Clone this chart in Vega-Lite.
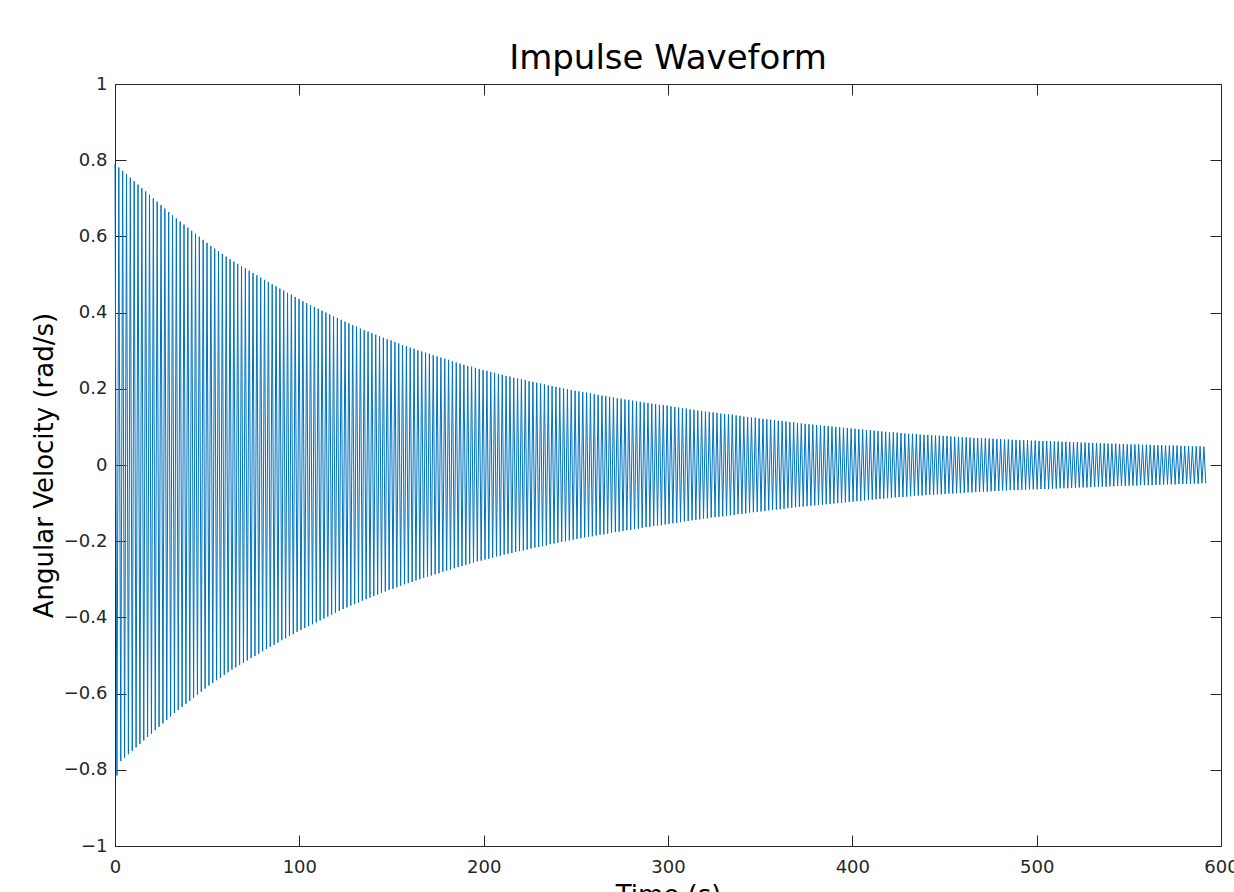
{
  "$schema": "https://vega.github.io/schema/vega-lite/v6.json",
  "width": 1106,
  "height": 762,
  "autosize": {"type": "none"},
  "padding": {"left": 115, "top": 84, "right": 13, "bottom": 46},
  "background": "white",
  "config": {"view": {"stroke": null}, "font": "DejaVu Sans"},
  "title": {"text": "Impulse Waveform", "fontSize": 34, "font": "DejaVu Sans", "fontWeight": "normal", "color": "#000000", "anchor": "middle", "frame": "group", "baseline": "alphabetic", "offset": -28},
  "data": {"values": [
{"t":0,"v":0.79},{"t":1.04,"v":-0.815},{"t":2.08,"v":0.781},{"t":3.12,"v":-0.777},{"t":4.16,"v":0.772},{"t":5.2,"v":-0.768},{"t":6.24,"v":0.763},{"t":7.28,"v":-0.759},{"t":8.32,"v":0.754},{"t":9.36,"v":-0.75},
{"t":10.4,"v":0.745},{"t":11.44,"v":-0.741},{"t":12.48,"v":0.736},{"t":13.52,"v":-0.732},{"t":14.56,"v":0.727},{"t":15.6,"v":-0.723},{"t":16.64,"v":0.718},{"t":17.68,"v":-0.714},{"t":18.72,"v":0.709},{"t":19.76,"v":-0.705},
{"t":20.8,"v":0.7},{"t":21.84,"v":-0.696},{"t":22.88,"v":0.691},{"t":23.92,"v":-0.687},{"t":24.96,"v":0.682},
{"t":26,"v":-0.678},{"t":27.04,"v":0.673},{"t":28.08,"v":-0.669},{"t":29.12,"v":0.664},{"t":30.16,"v":-0.66},{"t":31.2,"v":0.655},{"t":32.24,"v":-0.651},{"t":33.28,"v":0.647},{"t":34.32,"v":-0.643},{"t":35.36,"v":0.639},
{"t":36.4,"v":-0.635},{"t":37.44,"v":0.631},{"t":38.48,"v":-0.627},{"t":39.52,"v":0.623},{"t":40.56,"v":-0.619},{"t":41.6,"v":0.615},{"t":42.64,"v":-0.611},{"t":43.68,"v":0.607},{"t":44.72,"v":-0.603},{"t":45.76,"v":0.599},
{"t":46.8,"v":-0.595},{"t":47.84,"v":0.591},{"t":48.88,"v":-0.587},{"t":49.92,"v":0.583},{"t":50.96,"v":-0.579},
{"t":52,"v":0.575},{"t":53.04,"v":-0.572},{"t":54.08,"v":0.568},{"t":55.12,"v":-0.565},{"t":56.16,"v":0.561},{"t":57.2,"v":-0.558},{"t":58.24,"v":0.554},{"t":59.28,"v":-0.551},{"t":60.32,"v":0.547},{"t":61.36,"v":-0.544},
{"t":62.4,"v":0.54},{"t":63.44,"v":-0.537},{"t":64.48,"v":0.534},{"t":65.52,"v":-0.531},{"t":66.56,"v":0.528},{"t":67.6,"v":-0.525},{"t":68.64,"v":0.522},{"t":69.68,"v":-0.519},{"t":70.72,"v":0.516},{"t":71.76,"v":-0.513},
{"t":72.8,"v":0.51},{"t":73.84,"v":-0.507},{"t":74.88,"v":0.504},{"t":75.92,"v":-0.501},{"t":76.96,"v":0.498},
{"t":78,"v":-0.495},{"t":79.04,"v":0.492},{"t":80.08,"v":-0.489},{"t":81.12,"v":0.486},{"t":82.16,"v":-0.483},{"t":83.2,"v":0.48},{"t":84.24,"v":-0.477},{"t":85.28,"v":0.474},{"t":86.32,"v":-0.472},{"t":87.36,"v":0.469},
{"t":88.4,"v":-0.466},{"t":89.44,"v":0.463},{"t":90.48,"v":-0.46},{"t":91.52,"v":0.458},{"t":92.56,"v":-0.455},{"t":93.6,"v":0.452},{"t":94.64,"v":-0.449},{"t":95.68,"v":0.447},{"t":96.72,"v":-0.444},{"t":97.76,"v":0.441},
{"t":98.8,"v":-0.438},{"t":99.84,"v":0.436},{"t":100.88,"v":-0.433},{"t":101.92,"v":0.43},{"t":102.96,"v":-0.428},
{"t":104,"v":0.425},{"t":105.04,"v":-0.423},{"t":106.08,"v":0.42},{"t":107.12,"v":-0.418},{"t":108.16,"v":0.415},{"t":109.2,"v":-0.413},{"t":110.24,"v":0.41},{"t":111.28,"v":-0.408},{"t":112.32,"v":0.405},{"t":113.36,"v":-0.403},
{"t":114.4,"v":0.4},{"t":115.44,"v":-0.398},{"t":116.48,"v":0.395},{"t":117.52,"v":-0.393},{"t":118.56,"v":0.39},{"t":119.6,"v":-0.388},{"t":120.64,"v":0.386},{"t":121.68,"v":-0.383},{"t":122.72,"v":0.381},{"t":123.76,"v":-0.378},
{"t":124.8,"v":0.376},{"t":125.84,"v":-0.374},{"t":126.88,"v":0.372},{"t":127.92,"v":-0.369},{"t":128.96,"v":0.367},
{"t":130,"v":-0.365},{"t":131.04,"v":0.363},{"t":132.08,"v":-0.361},{"t":133.12,"v":0.358},{"t":134.16,"v":-0.356},{"t":135.2,"v":0.354},{"t":136.24,"v":-0.352},{"t":137.28,"v":0.35},{"t":138.32,"v":-0.348},{"t":139.36,"v":0.346},
{"t":140.4,"v":-0.344},{"t":141.44,"v":0.342},{"t":142.48,"v":-0.34},{"t":143.52,"v":0.338},{"t":144.56,"v":-0.336},{"t":145.6,"v":0.334},{"t":146.64,"v":-0.332},{"t":147.68,"v":0.33},{"t":148.72,"v":-0.328},{"t":149.76,"v":0.327},
{"t":150.8,"v":-0.325},{"t":151.84,"v":0.323},{"t":152.88,"v":-0.321},{"t":153.92,"v":0.319},{"t":154.96,"v":-0.317},
{"t":156,"v":0.315},{"t":157.04,"v":-0.313},{"t":158.08,"v":0.312},{"t":159.12,"v":-0.31},{"t":160.16,"v":0.308},{"t":161.2,"v":-0.307},{"t":162.24,"v":0.305},{"t":163.28,"v":-0.303},{"t":164.32,"v":0.301},{"t":165.36,"v":-0.3},
{"t":166.4,"v":0.298},{"t":167.44,"v":-0.296},{"t":168.48,"v":0.295},{"t":169.52,"v":-0.293},{"t":170.56,"v":0.292},{"t":171.6,"v":-0.29},{"t":172.64,"v":0.288},{"t":173.68,"v":-0.287},{"t":174.72,"v":0.285},{"t":175.76,"v":-0.284},
{"t":176.8,"v":0.282},{"t":177.84,"v":-0.28},{"t":178.88,"v":0.279},{"t":179.92,"v":-0.277},{"t":180.96,"v":0.276},
{"t":182,"v":-0.274},{"t":183.04,"v":0.272},{"t":184.08,"v":-0.271},{"t":185.12,"v":0.269},{"t":186.16,"v":-0.268},{"t":187.2,"v":0.266},{"t":188.24,"v":-0.265},{"t":189.28,"v":0.263},{"t":190.32,"v":-0.262},{"t":191.36,"v":0.26},
{"t":192.4,"v":-0.259},{"t":193.44,"v":0.258},{"t":194.48,"v":-0.256},{"t":195.52,"v":0.255},{"t":196.56,"v":-0.253},{"t":197.6,"v":0.252},{"t":198.64,"v":-0.251},{"t":199.68,"v":0.249},{"t":200.72,"v":-0.248},{"t":201.76,"v":0.247},
{"t":202.8,"v":-0.246},{"t":203.84,"v":0.244},{"t":204.88,"v":-0.243},{"t":205.92,"v":0.242},{"t":206.96,"v":-0.24},
{"t":208,"v":0.239},{"t":209.04,"v":-0.238},{"t":210.08,"v":0.237},{"t":211.12,"v":-0.235},{"t":212.16,"v":0.234},{"t":213.2,"v":-0.233},{"t":214.24,"v":0.232},{"t":215.28,"v":-0.231},{"t":216.32,"v":0.229},{"t":217.36,"v":-0.228},
{"t":218.4,"v":0.227},{"t":219.44,"v":-0.226},{"t":220.48,"v":0.225},{"t":221.52,"v":-0.224},{"t":222.56,"v":0.223},{"t":223.6,"v":-0.222},{"t":224.64,"v":0.22},{"t":225.68,"v":-0.219},{"t":226.72,"v":0.218},{"t":227.76,"v":-0.217},
{"t":228.8,"v":0.216},{"t":229.84,"v":-0.215},{"t":230.88,"v":0.214},{"t":231.92,"v":-0.213},{"t":232.96,"v":0.212},
{"t":234,"v":-0.211},{"t":235.04,"v":0.209},{"t":236.08,"v":-0.208},{"t":237.12,"v":0.207},{"t":238.16,"v":-0.206},{"t":239.2,"v":0.205},{"t":240.24,"v":-0.204},{"t":241.28,"v":0.203},{"t":242.32,"v":-0.202},{"t":243.36,"v":0.201},
{"t":244.4,"v":-0.2},{"t":245.44,"v":0.199},{"t":246.48,"v":-0.198},{"t":247.52,"v":0.197},{"t":248.56,"v":-0.196},{"t":249.6,"v":0.195},{"t":250.64,"v":-0.194},{"t":251.68,"v":0.193},{"t":252.72,"v":-0.192},{"t":253.76,"v":0.191},
{"t":254.8,"v":-0.19},{"t":255.84,"v":0.19},{"t":256.88,"v":-0.189},{"t":257.92,"v":0.188},{"t":258.96,"v":-0.187},
{"t":260,"v":0.186},{"t":261.04,"v":-0.185},{"t":262.08,"v":0.184},{"t":263.12,"v":-0.183},{"t":264.16,"v":0.182},{"t":265.2,"v":-0.182},{"t":266.24,"v":0.181},{"t":267.28,"v":-0.18},{"t":268.32,"v":0.179},{"t":269.36,"v":-0.178},
{"t":270.4,"v":0.177},{"t":271.44,"v":-0.176},{"t":272.48,"v":0.175},{"t":273.52,"v":-0.175},{"t":274.56,"v":0.174},{"t":275.6,"v":-0.173},{"t":276.64,"v":0.172},{"t":277.68,"v":-0.171},{"t":278.72,"v":0.171},{"t":279.76,"v":-0.17},
{"t":280.8,"v":0.169},{"t":281.84,"v":-0.168},{"t":282.88,"v":0.167},{"t":283.92,"v":-0.167},{"t":284.96,"v":0.166},
{"t":286,"v":-0.165},{"t":287.04,"v":0.164},{"t":288.08,"v":-0.163},{"t":289.12,"v":0.163},{"t":290.16,"v":-0.162},{"t":291.2,"v":0.161},{"t":292.24,"v":-0.16},{"t":293.28,"v":0.16},{"t":294.32,"v":-0.159},{"t":295.36,"v":0.158},
{"t":296.4,"v":-0.158},{"t":297.44,"v":0.157},{"t":298.48,"v":-0.156},{"t":299.52,"v":0.156},{"t":300.56,"v":-0.155},{"t":301.6,"v":0.154},{"t":302.64,"v":-0.153},{"t":303.68,"v":0.152},{"t":304.72,"v":-0.152},{"t":305.76,"v":0.151},
{"t":306.8,"v":-0.15},{"t":307.84,"v":0.149},{"t":308.88,"v":-0.148},{"t":309.92,"v":0.148},{"t":310.96,"v":-0.147},
{"t":312,"v":0.146},{"t":313.04,"v":-0.145},{"t":314.08,"v":0.145},{"t":315.12,"v":-0.144},{"t":316.16,"v":0.143},{"t":317.2,"v":-0.143},{"t":318.24,"v":0.142},{"t":319.28,"v":-0.141},{"t":320.32,"v":0.14},{"t":321.36,"v":-0.14},
{"t":322.4,"v":0.139},{"t":323.44,"v":-0.138},{"t":324.48,"v":0.138},{"t":325.52,"v":-0.137},{"t":326.56,"v":0.137},{"t":327.6,"v":-0.136},{"t":328.64,"v":0.135},{"t":329.68,"v":-0.135},{"t":330.72,"v":0.134},{"t":331.76,"v":-0.134},
{"t":332.8,"v":0.133},{"t":333.84,"v":-0.132},{"t":334.88,"v":0.132},{"t":335.92,"v":-0.131},{"t":336.96,"v":0.13},
{"t":338,"v":-0.129},{"t":339.04,"v":0.129},{"t":340.08,"v":-0.128},{"t":341.12,"v":0.127},{"t":342.16,"v":-0.127},{"t":343.2,"v":0.126},{"t":344.24,"v":-0.125},{"t":345.28,"v":0.125},{"t":346.32,"v":-0.124},{"t":347.36,"v":0.124},
{"t":348.4,"v":-0.123},{"t":349.44,"v":0.122},{"t":350.48,"v":-0.122},{"t":351.52,"v":0.121},{"t":352.56,"v":-0.121},{"t":353.6,"v":0.12},{"t":354.64,"v":-0.119},{"t":355.68,"v":0.119},{"t":356.72,"v":-0.118},{"t":357.76,"v":0.118},
{"t":358.8,"v":-0.117},{"t":359.84,"v":0.116},{"t":360.88,"v":-0.116},{"t":361.92,"v":0.115},{"t":362.96,"v":-0.115},
{"t":364,"v":0.114},{"t":365.04,"v":-0.113},{"t":366.08,"v":0.113},{"t":367.12,"v":-0.112},{"t":368.16,"v":0.112},{"t":369.2,"v":-0.111},{"t":370.24,"v":0.11},{"t":371.28,"v":-0.11},{"t":372.32,"v":0.109},{"t":373.36,"v":-0.109},
{"t":374.4,"v":0.108},{"t":375.44,"v":-0.108},{"t":376.48,"v":0.107},{"t":377.52,"v":-0.107},{"t":378.56,"v":0.106},{"t":379.6,"v":-0.106},{"t":380.64,"v":0.105},{"t":381.68,"v":-0.105},{"t":382.72,"v":0.104},{"t":383.76,"v":-0.104},
{"t":384.8,"v":0.103},{"t":385.84,"v":-0.103},{"t":386.88,"v":0.102},{"t":387.92,"v":-0.102},{"t":388.96,"v":0.101},
{"t":390,"v":-0.101},{"t":391.04,"v":0.1},{"t":392.08,"v":-0.1},{"t":393.12,"v":0.099},{"t":394.16,"v":-0.099},{"t":395.2,"v":0.098},{"t":396.24,"v":-0.098},{"t":397.28,"v":0.097},{"t":398.32,"v":-0.097},{"t":399.36,"v":0.096},
{"t":400.4,"v":-0.096},{"t":401.44,"v":0.095},{"t":402.48,"v":-0.095},{"t":403.52,"v":0.094},{"t":404.56,"v":-0.094},{"t":405.6,"v":0.093},{"t":406.64,"v":-0.093},{"t":407.68,"v":0.092},{"t":408.72,"v":-0.092},{"t":409.76,"v":0.091},
{"t":410.8,"v":-0.091},{"t":411.84,"v":0.09},{"t":412.88,"v":-0.09},{"t":413.92,"v":0.089},{"t":414.96,"v":-0.089},
{"t":416,"v":0.088},{"t":417.04,"v":-0.088},{"t":418.08,"v":0.087},{"t":419.12,"v":-0.087},{"t":420.16,"v":0.086},{"t":421.2,"v":-0.086},{"t":422.24,"v":0.086},{"t":423.28,"v":-0.085},{"t":424.32,"v":0.085},{"t":425.36,"v":-0.084},
{"t":426.4,"v":0.084},{"t":427.44,"v":-0.084},{"t":428.48,"v":0.083},{"t":429.52,"v":-0.083},{"t":430.56,"v":0.082},{"t":431.6,"v":-0.082},{"t":432.64,"v":0.082},{"t":433.68,"v":-0.081},{"t":434.72,"v":0.081},{"t":435.76,"v":-0.08},
{"t":436.8,"v":0.08},{"t":437.84,"v":-0.08},{"t":438.88,"v":0.079},{"t":439.92,"v":-0.079},{"t":440.96,"v":0.079},
{"t":442,"v":-0.078},{"t":443.04,"v":0.078},{"t":444.08,"v":-0.078},{"t":445.12,"v":0.077},{"t":446.16,"v":-0.077},{"t":447.2,"v":0.077},{"t":448.24,"v":-0.077},{"t":449.28,"v":0.076},{"t":450.32,"v":-0.076},{"t":451.36,"v":0.076},
{"t":452.4,"v":-0.075},{"t":453.44,"v":0.075},{"t":454.48,"v":-0.075},{"t":455.52,"v":0.074},{"t":456.56,"v":-0.074},{"t":457.6,"v":0.074},{"t":458.64,"v":-0.074},{"t":459.68,"v":0.073},{"t":460.72,"v":-0.073},{"t":461.76,"v":0.073},
{"t":462.8,"v":-0.072},{"t":463.84,"v":0.072},{"t":464.88,"v":-0.072},{"t":465.92,"v":0.071},{"t":466.96,"v":-0.071},
{"t":468,"v":0.071},{"t":469.04,"v":-0.071},{"t":470.08,"v":0.07},{"t":471.12,"v":-0.07},{"t":472.16,"v":0.07},{"t":473.2,"v":-0.07},{"t":474.24,"v":0.069},{"t":475.28,"v":-0.069},{"t":476.32,"v":0.069},{"t":477.36,"v":-0.068},
{"t":478.4,"v":0.068},{"t":479.44,"v":-0.068},{"t":480.48,"v":0.068},{"t":481.52,"v":-0.067},{"t":482.56,"v":0.067},{"t":483.6,"v":-0.067},{"t":484.64,"v":0.067},{"t":485.68,"v":-0.066},{"t":486.72,"v":0.066},{"t":487.76,"v":-0.066},
{"t":488.8,"v":0.066},{"t":489.84,"v":-0.066},{"t":490.88,"v":0.065},{"t":491.92,"v":-0.065},{"t":492.96,"v":0.065},
{"t":494,"v":-0.065},{"t":495.04,"v":0.065},{"t":496.08,"v":-0.064},{"t":497.12,"v":0.064},{"t":498.16,"v":-0.064},{"t":499.2,"v":0.064},{"t":500.24,"v":-0.064},{"t":501.28,"v":0.063},{"t":502.32,"v":-0.063},{"t":503.36,"v":0.063},
{"t":504.4,"v":-0.063},{"t":505.44,"v":0.063},{"t":506.48,"v":-0.063},{"t":507.52,"v":0.062},{"t":508.56,"v":-0.062},{"t":509.6,"v":0.062},{"t":510.64,"v":-0.062},{"t":511.68,"v":0.062},{"t":512.72,"v":-0.061},{"t":513.76,"v":0.061},
{"t":514.8,"v":-0.061},{"t":515.84,"v":0.061},{"t":516.88,"v":-0.061},{"t":517.92,"v":0.06},{"t":518.96,"v":-0.06},
{"t":520,"v":0.06},{"t":521.04,"v":-0.06},{"t":522.08,"v":0.06},{"t":523.12,"v":-0.059},{"t":524.16,"v":0.059},{"t":525.2,"v":-0.059},{"t":526.24,"v":0.059},{"t":527.28,"v":-0.059},{"t":528.32,"v":0.058},{"t":529.36,"v":-0.058},
{"t":530.4,"v":0.058},{"t":531.44,"v":-0.058},{"t":532.48,"v":0.058},{"t":533.52,"v":-0.057},{"t":534.56,"v":0.057},{"t":535.6,"v":-0.057},{"t":536.64,"v":0.057},{"t":537.68,"v":-0.057},{"t":538.72,"v":0.056},{"t":539.76,"v":-0.056},
{"t":540.8,"v":0.056},{"t":541.84,"v":-0.056},{"t":542.88,"v":0.056},{"t":543.92,"v":-0.055},{"t":544.96,"v":0.055},
{"t":546,"v":-0.055},{"t":547.04,"v":0.055},{"t":548.08,"v":-0.055},{"t":549.12,"v":0.054},{"t":550.16,"v":-0.054},{"t":551.2,"v":0.054},{"t":552.24,"v":-0.054},{"t":553.28,"v":0.054},{"t":554.32,"v":-0.054},{"t":555.36,"v":0.054},
{"t":556.4,"v":-0.053},{"t":557.44,"v":0.053},{"t":558.48,"v":-0.053},{"t":559.52,"v":0.053},{"t":560.56,"v":-0.053},{"t":561.6,"v":0.053},{"t":562.64,"v":-0.053},{"t":563.68,"v":0.052},{"t":564.72,"v":-0.052},{"t":565.76,"v":0.052},
{"t":566.8,"v":-0.052},{"t":567.84,"v":0.052},{"t":568.88,"v":-0.051},{"t":569.92,"v":0.051},{"t":570.96,"v":-0.051},
{"t":572,"v":0.051},{"t":573.04,"v":-0.051},{"t":574.08,"v":0.051},{"t":575.12,"v":-0.051},{"t":576.16,"v":0.051},{"t":577.2,"v":-0.05},{"t":578.24,"v":0.05},{"t":579.28,"v":-0.05},{"t":580.32,"v":0.05},{"t":581.36,"v":-0.05},
{"t":582.4,"v":0.05},{"t":583.44,"v":-0.05},{"t":584.48,"v":0.049},{"t":585.52,"v":-0.049},{"t":586.56,"v":0.049},{"t":587.6,"v":-0.049},{"t":588.64,"v":0.049},{"t":589.68,"v":-0.048},{"t":590.72,"v":0.048},{"t":591.76,"v":-0.048}
  ]},
  "layer": [
    {
      "mark": {"type": "line", "color": "#0072BD", "strokeWidth": 1},
      "encoding": {
        "x": {"field": "t", "type": "quantitative",
          "scale": {"domain": [0, 600], "nice": false, "zero": false},
          "axis": {"orient": "bottom", "values": [0, 100, 200, 300, 400, 500, 600], "title": "Time (s)", "grid": false,
            "tickSize": -11, "labelPadding": 23, "domainColor": "#262626", "tickColor": "#262626", "labelColor": "#262626",
            "labelFont": "DejaVu Sans", "labelFontSize": 18, "titleFont": "DejaVu Sans", "titleFontSize": 26, "titleFontWeight": "normal",
            "titleColor": "#000000", "titlePadding": 6, "labelFlush": false, "labelOverlap": false}},
        "y": {"field": "v", "type": "quantitative",
          "scale": {"domain": [-1, 1], "nice": false, "zero": false},
          "axis": {"orient": "left", "values": [-1, -0.8, -0.6, -0.4, -0.2, 0, 0.2, 0.4, 0.6, 0.8, 1], "format": ".1~f", "title": "Angular Velocity (rad/s)", "grid": false,
            "tickSize": -11, "labelPadding": 19, "domainColor": "#262626", "tickColor": "#262626", "labelColor": "#262626",
            "labelFont": "DejaVu Sans", "labelFontSize": 18, "titleFont": "DejaVu Sans", "titleFontSize": 26, "titleFontWeight": "normal",
            "titleColor": "#000000", "titlePadding": 6, "labelFlush": false, "labelOverlap": false}}
      }
    },
    {
      "mark": {"type": "line", "opacity": 0},
      "encoding": {
        "x": {"field": "t", "type": "quantitative",
          "axis": {"orient": "top", "values": [0, 100, 200, 300, 400, 500, 600], "labels": false, "title": null, "grid": false,
            "tickSize": -11, "domainColor": "#262626", "tickColor": "#262626"}},
        "y": {"field": "v", "type": "quantitative",
          "axis": {"orient": "right", "values": [-1, -0.8, -0.6, -0.4, -0.2, 0, 0.2, 0.4, 0.6, 0.8, 1], "labels": false, "title": null, "grid": false,
            "tickSize": -11, "domainColor": "#262626", "tickColor": "#262626"}}
      }
    }
  ],
  "resolve": {"axis": {"x": "independent", "y": "independent"}}
}
